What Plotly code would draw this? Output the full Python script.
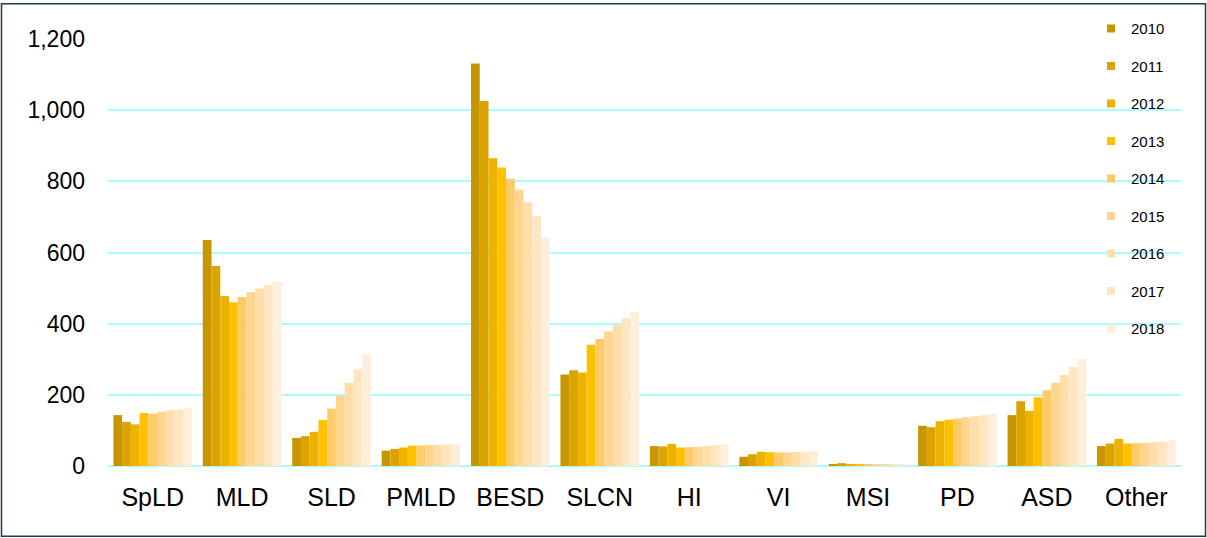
import plotly.graph_objects as go

categories = ["SpLD", "MLD", "SLD", "PMLD", "BESD", "SLCN", "HI", "VI", "MSI", "PD", "ASD", "Other"]
years = ["2010", "2011", "2012", "2013", "2014", "2015", "2016", "2017", "2018"]

v2010 = [143, 635, 79, 43, 1131, 257, 56, 26, 4, 113, 143, 56]
v2011 = [124, 562, 84, 48, 1026, 269, 55, 33, 8, 109, 182, 63]
v2012 = [117, 478, 96, 52, 865, 263, 62, 40, 3, 126, 155, 76]
v2013 = [149, 460, 129, 57, 839, 341, 52, 39, 3, 130, 193, 63]
v2014 = [147, 475, 161, 58, 807, 357, 53, 38, 3, 133, 213, 64]
v2015 = [152, 488, 197, 59, 777, 378, 54, 38, 3, 137, 234, 65]
v2016 = [157, 499, 234, 60, 741, 397, 56, 39, 3, 140, 256, 67]
v2017 = [159, 509, 272, 61, 702, 415, 58, 40, 3, 143, 278, 69]
v2018 = [163, 518, 313, 62, 641, 433, 61, 42, 3, 146, 301, 72]

series = [v2010, v2011, v2012, v2013, v2014, v2015, v2016, v2017, v2018]
colors = ["#C79500", "#DAA300", "#EDB200", "#FFC000", "#FFCB69",
          "#FFD590", "#FFDEAA", "#FFE6C3", "#FFEEDB"]

fig = go.Figure()
for yr, vals, col in zip(years, series, colors):
    fig.add_trace(go.Bar(x=categories, y=vals, name=yr, marker_color=col,
                         marker_line_width=0, showlegend=False))
for yr, col in zip(years, colors):
    fig.add_trace(go.Scatter(x=[None], y=[None], mode="markers", name=yr,
                             marker=dict(symbol="square", size=8, color=col),
                             legendgroup=yr))

W, H = 1207, 538
ml, mr, mt, mb = 108, 26, 37, 72
pw, ph = W - ml - mr, H - mt - mb

def px(x):
    return (x - ml) / pw

def py(y):
    return (H - mb - y) / ph

fig.update_layout(
    width=W, height=H,
    margin=dict(l=ml, r=mr, t=mt, b=mb),
    paper_bgcolor="white", plot_bgcolor="white",
    barmode="group", bargap=0.12, bargroupgap=0,
    font=dict(family="Liberation Sans, Arial, sans-serif", color="black"),
    xaxis=dict(range=[-0.5, 11.5], showgrid=False, showline=False, ticks="",
               tickfont=dict(size=25), ticklabelstandoff=14),
    yaxis=dict(range=[0, 1200], dtick=200, tickformat=",d", showgrid=True,
               gridcolor="#AEFBFB", gridwidth=2, zeroline=True,
               zerolinecolor="#AEFBFB", zerolinewidth=2, showline=False,
               ticks="", tickfont=dict(size=23), ticklabelstandoff=22),
    legend=dict(x=px(1091), y=py(10), xanchor="left", yanchor="top",
                font=dict(size=15), tracegroupgap=15, traceorder="grouped",
                bgcolor="rgba(0,0,0,0)", maxheight=500),
    shapes=[dict(type="rect", xref="paper", yref="paper",
                 x0=px(1.5), x1=px(1205.5), y0=py(536.5), y1=py(1.5),
                 line=dict(color="#1F3F3F", width=1.5), layer="above")],
)

fig.write_html("out.html", config={"displayModeBar": False},
               post_script="document.body.style.margin='0';")
